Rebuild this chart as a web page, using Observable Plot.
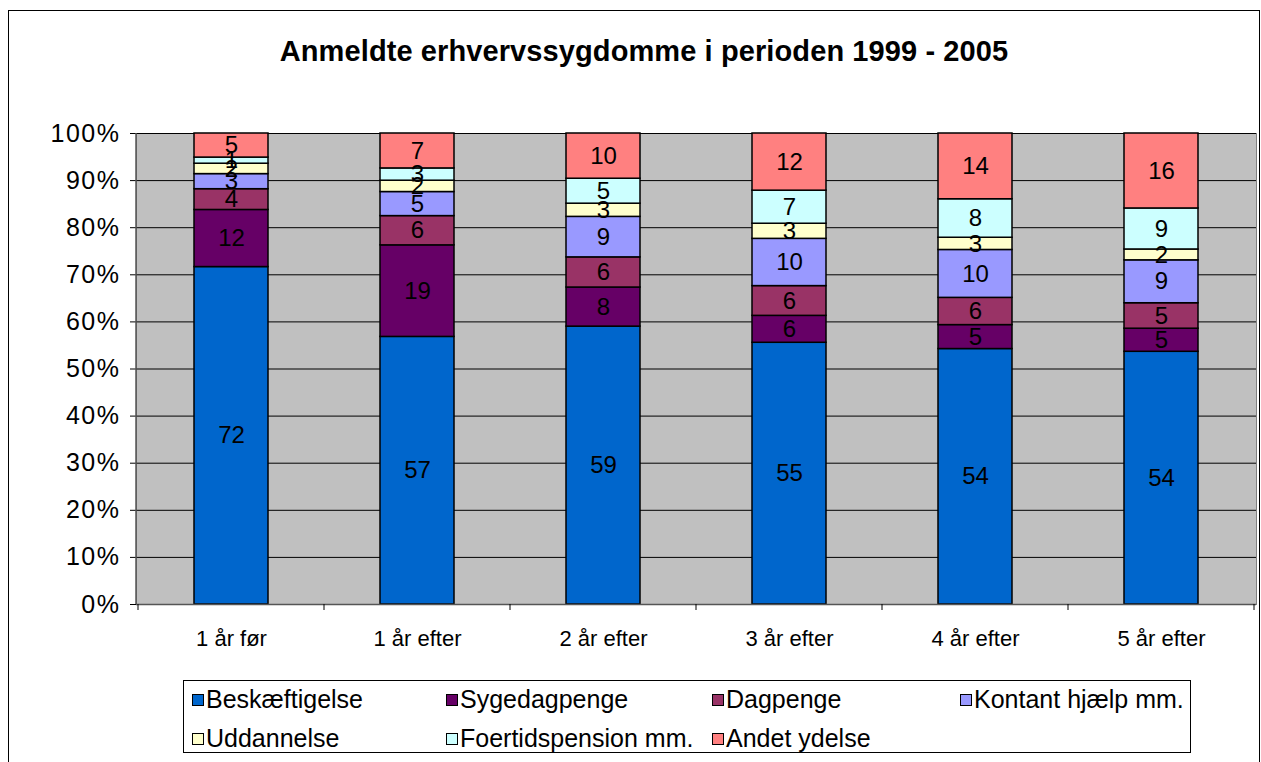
<!DOCTYPE html>
<html><head><meta charset="utf-8">
<script src="https://cdn.jsdelivr.net/npm/d3@7"></script>
<script src="https://cdn.jsdelivr.net/npm/@observablehq/plot@0.6"></script>
<style>
body{margin:0;background:#fff;font-family:"Liberation Sans",Arial,sans-serif;width:1261px;height:762px;overflow:hidden;position:relative;}
#frame{position:absolute;left:8px;top:10px;width:1252px;height:770px;border:1.5px solid #000;box-sizing:border-box;}
#title{position:absolute;left:0;width:1288px;top:35px;text-align:center;font-weight:bold;font-size:29px;letter-spacing:0.1px;color:#000;white-space:nowrap;}
#chart{position:absolute;left:0;top:100px;}
#legend{position:absolute;left:183px;top:680px;width:1008px;height:73px;border:1.5px solid #000;box-sizing:border-box;background:#fff;}
.item{position:absolute;font-size:25px;line-height:25px;white-space:nowrap;color:#000;}
.sw{position:absolute;left:0;top:7px;width:10px;height:10px;border:1px solid #000;}
.lbl{position:absolute;left:14px;top:0;}
#chart svg g[aria-label="y-axis tick label"] text{letter-spacing:1.5px;}
</style></head>
<body>
<div id="frame"></div>
<div id="title">Anmeldte erhvervssygdomme i perioden 1999 - 2005</div>
<div id="chart"></div>
<div id="legend"></div>
<script>
const categories = ["1 år før", "1 år efter", "2 år efter", "3 år efter", "4 år efter", "5 år efter"];
const series = ["Beskæftigelse", "Sygedagpenge", "Dagpenge", "Kontant hjælp mm.", "Uddannelse", "Foertidspension mm.", "Andet ydelse"];
const colors = ["#0066CC", "#660066", "#993366", "#9999FF", "#FFFFCC", "#CCFFFF", "#FF8080"];
const beskaeftigelse = [71.5, 56.7, 59.0, 55.4, 54.4, 53.6];
const sygedagpenge   = [12.1, 19.4, 8.3, 5.7, 5.1, 4.9];
const dagpenge       = [4.4, 6.2, 6.4, 6.3, 5.8, 5.4];
const kontant        = [3.2, 5.1, 8.6, 10.0, 10.2, 9.1];
const uddannelse     = [2.2, 2.4, 2.8, 3.2, 2.6, 2.3];
const foertid        = [1.3, 2.6, 5.3, 7.0, 8.2, 8.7];
const andet          = [5.1, 7.4, 9.6, 12.1, 14.0, 15.9];
const yTicks = [0, 0.1, 0.2, 0.3, 0.4, 0.5, 0.6, 0.7, 0.8, 0.9, 1];

const seriesValues = [beskaeftigelse, sygedagpenge, dagpenge, kontant, uddannelse, foertid, andet];
const rows = [];
series.forEach((s, i) => categories.forEach((c, j) => rows.push({cat: c, series: s, value: seriesValues[i][j]})));

const stackOpts = {offset: "normalize", order: series};

function categoryTicks(index, scales, values, dims) {
  const x = scales.x;
  const x0 = x(categories[0]), x1 = x(categories[1]);
  const step = x1 - x0;
  const bw = x.bandwidth ? x.bandwidth() : step * 0.4;
  const g = d3.create("svg:g");
  const y = dims.height - dims.marginBottom;
  const bounds = categories.map(c => x(c) - (step - bw) / 2);
  bounds.push(bounds[bounds.length - 1] + step);
  for (const b of bounds) {
    g.append("line").attr("x1", b).attr("x2", b).attr("y1", y).attr("y2", y + 6)
      .attr("stroke", "#000").attr("stroke-width", 1);
  }
  g.append("line").attr("x1", dims.marginLeft).attr("x2", dims.marginLeft)
    .attr("y1", dims.marginTop).attr("y2", y).attr("stroke", "#555").attr("stroke-width", 1.5);
  return g.node();
}

const chart = Plot.plot({
  width: 1261,
  height: 560,
  marginTop: 33,
  marginBottom: 56,
  marginLeft: 136,
  marginRight: 5,
  style: {fontFamily: "Liberation Sans, Arial, sans-serif", color: "#000", background: "transparent"},
  x: {domain: categories, paddingInner: 0.6, paddingOuter: 0.3, label: null},
  y: {domain: [0, 1], label: null},
  color: {domain: series, range: colors},
  marks: [
    Plot.frame({fill: "#C0C0C0", stroke: "#808080"}),
    Plot.gridY(yTicks, {stroke: "#000", strokeOpacity: 1, strokeWidth: 1}),
    Plot.barY(rows, Plot.stackY(stackOpts, {x: "cat", y: "value", z: "series", fill: "series", stroke: "#000", strokeWidth: 1.5})),
    Plot.text(rows, Plot.stackY(stackOpts, {x: "cat", y: "value", z: "series", text: d => String(Math.round(d.value)), fontSize: 24, fill: "#000"})),
    Plot.axisY({ticks: yTicks, tickFormat: d => Math.round(d * 100) + "%", tickSize: 6, tickPadding: 10, fontSize: 25, label: null}),
    Plot.axisX({tickSize: 0, tickPadding: 26, fontSize: 22, label: null}),
    Plot.ruleY([0], {stroke: "#555", strokeWidth: 1.5}),
    categoryTicks
  ]
});
document.getElementById("chart").appendChild(chart);

// legend
const legend = document.getElementById("legend");
const colX = [8, 262, 528, 776];
const rowY = [6, 45];
series.forEach((s, i) => {
  const r = Math.floor(i / 4), c = i % 4;
  const cx = (i === 6) ? 2 : c;
  const item = document.createElement("div");
  item.className = "item";
  item.style.left = colX[cx] + "px";
  item.style.top = rowY[r] + "px";
  item.innerHTML = `<div class="sw" style="background:${colors[i]}"></div><div class="lbl">${s}</div>`;
  legend.appendChild(item);
});
</script>
</body></html>
